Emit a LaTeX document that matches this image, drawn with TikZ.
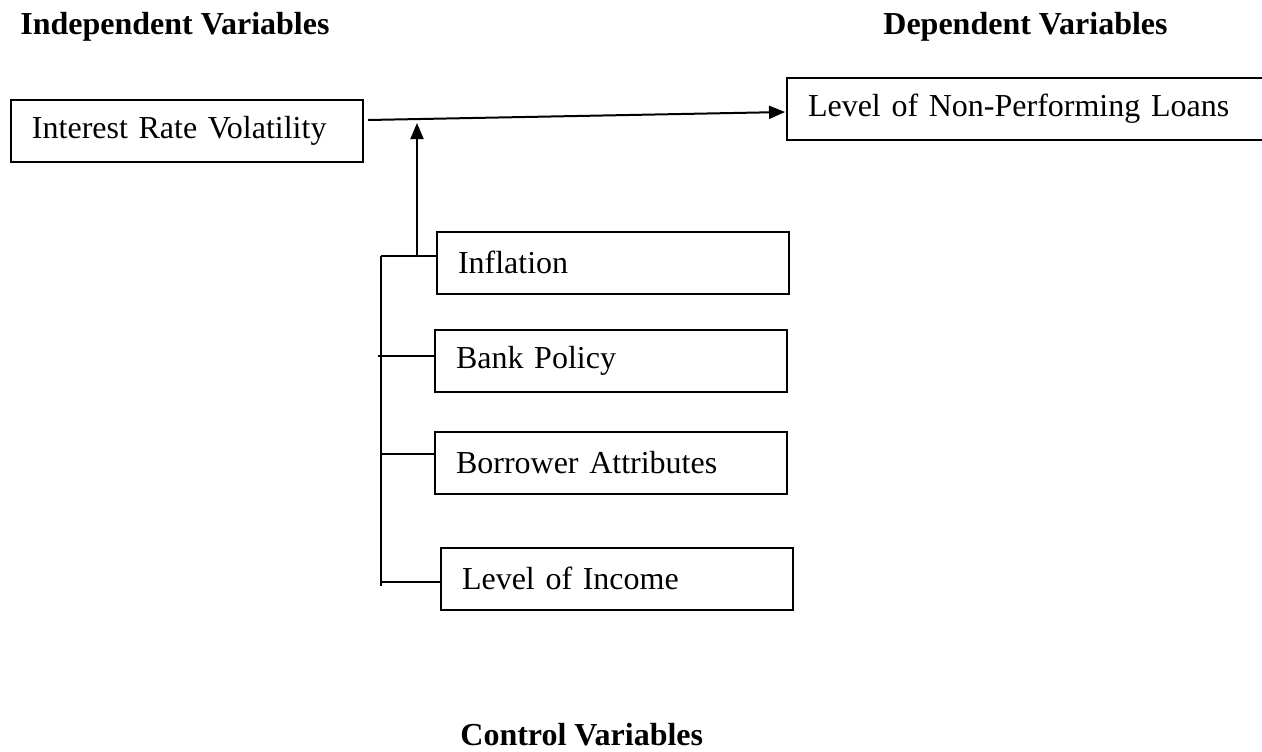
\documentclass[tikz,border=0pt]{standalone}
\usepackage{fontspec}
\setmainfont{Liberation Serif}
\usetikzlibrary{arrows.meta,calc}
\begin{document}
\begin{tikzpicture}[x=0.5pt,y=-0.5pt,
  every node/.style={font=\fontsize{16}{19}\selectfont},
  box/.style={draw,line width=1pt,rectangle,inner xsep=10.5pt,inner ysep=0pt,
    minimum height=31pt,align=left,anchor=center},
  title/.style={font=\fontsize{16}{19}\selectfont\bfseries,anchor=base west,inner sep=0pt},
  conn/.style={line width=1pt},
  arr/.style={line width=1pt,-{Triangle[length=8pt,width=6.5pt]}}]
\useasboundingbox (0,0) rectangle (1262,751);
\node[title] (tind) at (20,34) {Independent Variables};
\node[title] (tdep) at (883,34) {Dependent Variables};
\node[title] (tcon) at (460,745) {Control Variables};
\node[box,text width=155pt] (irv) at (187,131) {Interest Rate Volatility};
\node[box,text width=218.5pt] (npl) at (1026.5,108.5) {Level of Non-Performing Loans};
\node[box,text width=155pt] (inf) at (613,262.5) {Inflation};
\node[box,text width=155pt] (bank) at (611,361) {Bank Policy};
\node[box,text width=155pt] (borr) at (611,463) {Borrower Attributes};
\node[box,text width=155pt] (inc) at (617,578.5) {Level of Income};
\coordinate (s) at ($(irv.east)+(4,-11)$);
\coordinate (e) at ($(npl.west)+(-1,3.5)$);
\draw[arr] (s) -- (e);
\coordinate (j) at (417,256);
\coordinate (jt) at (417,123);
\draw[arr] (j) -- (jt);
\coordinate (top) at (381,256);
\coordinate (bot) at (381,586);
\draw[conn] (top) -- (bot);
\draw[conn] (top) -- (inf.west |- top);
\draw[conn] (378,356) -- (bank.west |- 0,356);
\draw[conn] (381,454) -- (borr.west |- 0,454);
\draw[conn] (381,582) -- (inc.west |- 0,582);
\end{tikzpicture}
\end{document}
